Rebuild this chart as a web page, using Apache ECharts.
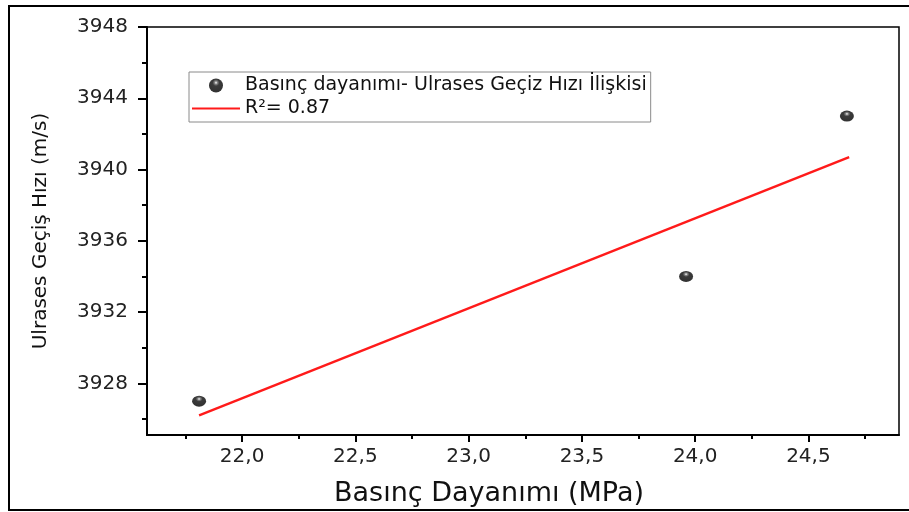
<!DOCTYPE html>
<html>
<head>
<meta charset="utf-8">
<script src="https://cdn.jsdelivr.net/npm/echarts@6/dist/echarts.min.js"></script>
<style>html,body{margin:0;padding:0;background:#fff}#c{width:909px;height:512px}</style>
</head>
<body>
<div id="c"></div>
<script>
// Data
const strength = [21.81, 23.96, 24.67];          // Basınç Dayanımı (MPa)
const velocity = [3927.0, 3934.0, 3943.0];       // Ulrases Geçiş Hızı (m/s)
const fitX = [21.81, 24.68];                      // fitted line end points
const fitY = [3926.2, 3940.7];
const yMajorTicks = [3928, 3932, 3936, 3940, 3944, 3948];
const yMinorTicks = [3926, 3930, 3934, 3938, 3942, 3946];
const xMajorTicks = [22.0, 22.5, 23.0, 23.5, 24.0, 24.5];
const xMinorTicks = [21.75, 22.25, 22.75, 23.25, 23.75, 24.25, 24.75];
const scatterName = 'Basınç dayanımı- Ulrases Geçiz Hızı İlişkisi';
const fitName = 'R²= 0.87';
const xTitle = 'Basınç Dayanımı (MPa)';
const yTitle = 'Ulrases Geçiş Hızı (m/s)';

const FONT = 'DejaVu Sans';
const xMin = 21.58, xMax = 24.9, yMin = 3925.1, yMax = 3948;

const chart = echarts.init(document.getElementById('c'));
chart.setOption({
  animation: false,
  backgroundColor: '#fff',
  textStyle: { fontFamily: FONT },
  graphic: [{
    type: 'rect', silent: true, z: 100,
    shape: { x: 9, y: 6, width: 1000, height: 504 },
    style: { fill: 'none', stroke: '#000', lineWidth: 2 }
  }],
  grid: {
    left: 147, top: 27, right: 10, bottom: 74,
    show: true, borderColor: '#000', borderWidth: 1.5, backgroundColor: '#fff'
  },
  legend: {
    orient: 'vertical', left: 189, top: 72,
    padding: [4, 4, 4, 3],
    itemWidth: 48, itemHeight: 14, itemGap: 4,
    borderColor: '#8a8a8a', borderWidth: 1,
    textStyle: { fontFamily: FONT, fontSize: 19, lineHeight: 16, color: '#111' },
    data: [
      { name: scatterName },
      { name: fitName, icon: 'path://M0,0H48V2.2H0Z' }
    ]
  },
  xAxis: [{
    type: 'value', min: xMin, max: xMax,
    axisLine: { show: true, lineStyle: { color: '#000', width: 2 } },
    axisTick: { show: true, customValues: xMajorTicks, length: 7, lineStyle: { color: '#000', width: 2 } },
    axisLabel: {
      customValues: xMajorTicks, margin: 12,
      fontFamily: FONT, fontSize: 20, color: '#222',
      formatter: v => v.toFixed(1).replace('.', ',')
    },
    splitLine: { show: false },
    name: xTitle, nameLocation: 'middle', nameGap: 45,
    nameTextStyle: { fontFamily: FONT, fontSize: 27, color: '#111', padding: [0, 68, 0, 0] }
  }, {
    type: 'value', min: xMin, max: xMax, position: 'bottom',
    axisLine: { show: false },
    axisTick: { show: true, customValues: xMinorTicks, length: 4, lineStyle: { color: '#000', width: 2 } },
    axisLabel: { show: false },
    splitLine: { show: false }
  }],
  yAxis: [{
    type: 'value', min: yMin, max: yMax,
    axisLine: { show: true, lineStyle: { color: '#000', width: 2 } },
    axisTick: { show: true, customValues: yMajorTicks, length: 9, lineStyle: { color: '#000', width: 2 } },
    axisLabel: {
      customValues: yMajorTicks, margin: 19,
      fontFamily: FONT, fontSize: 20, color: '#222',
      formatter: v => String(Math.round(v))
    },
    splitLine: { show: false },
    name: yTitle, nameLocation: 'middle', nameGap: 96, nameRotate: 90,
    nameTextStyle: { fontFamily: FONT, fontSize: 20, color: '#111' }
  }, {
    type: 'value', min: yMin, max: yMax, position: 'left',
    axisLine: { show: false },
    axisTick: { show: true, customValues: yMinorTicks, length: 5, lineStyle: { color: '#000', width: 2 } },
    axisLabel: { show: false },
    splitLine: { show: false }
  }],
  series: [{
    name: scatterName, type: 'scatter',
    xAxisIndex: 0, yAxisIndex: 0,
    symbol: 'circle', symbolSize: [14, 11],
    itemStyle: {
      color: {
        type: 'radial', x: 0.5, y: 0.3, r: 0.6,
        colorStops: [
          { offset: 0, color: '#ffffff' },
          { offset: 0.18, color: '#666' },
          { offset: 0.4, color: '#0a0a0a' },
          { offset: 1, color: '#000' }
        ]
      }
    },
    data: strength.map((x, i) => [x, velocity[i]]),
    z: 3
  }, {
    name: fitName, type: 'line',
    xAxisIndex: 0, yAxisIndex: 0,
    symbol: 'none', showSymbol: false,
    lineStyle: { color: '#ff1a1a', width: 2.4 },
    itemStyle: { color: '#ff1a1a' },
    data: fitX.map((x, i) => [x, fitY[i]]),
    z: 2
  }]
});
</script>
</body>
</html>
